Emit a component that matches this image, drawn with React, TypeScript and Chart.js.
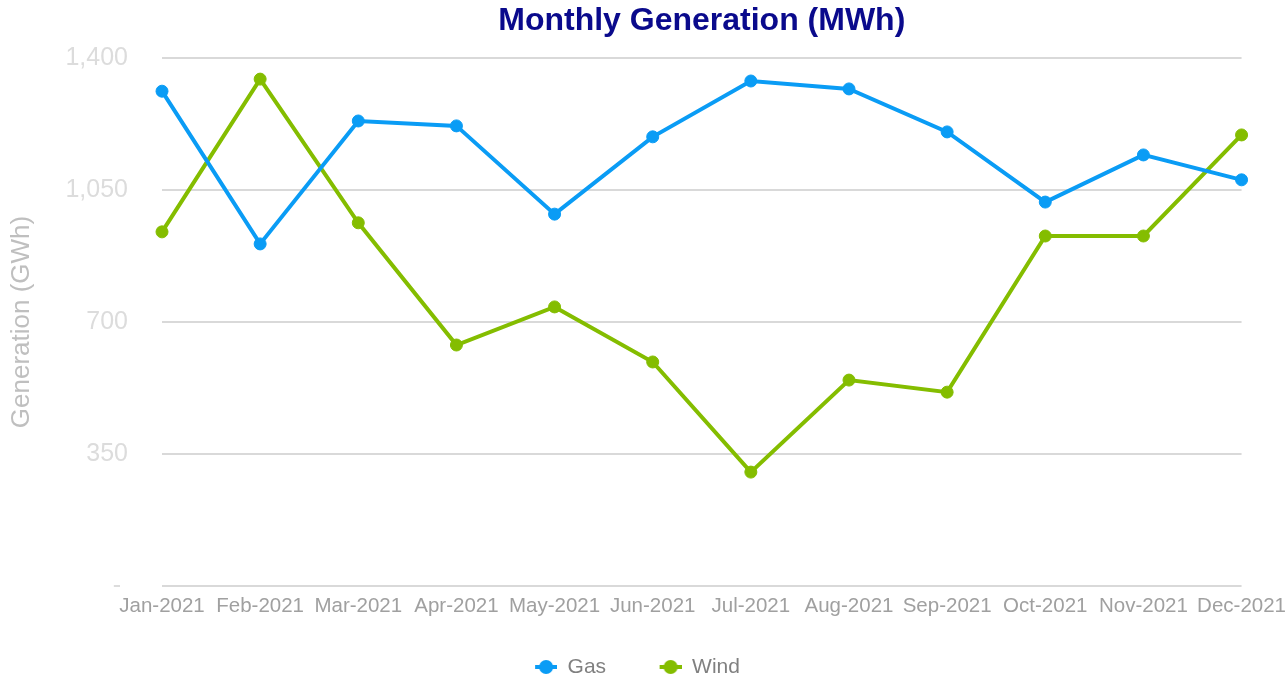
import React, { useEffect, useRef } from "react";
import { Chart, registerables } from "chart.js";

Chart.register(...registerables);

const months = [
  "Jan-2021", "Feb-2021", "Mar-2021", "Apr-2021", "May-2021", "Jun-2021",
  "Jul-2021", "Aug-2021", "Sep-2021", "Oct-2021", "Nov-2021", "Dec-2021",
];
const gasValues = [1312, 907, 1233, 1220, 986, 1191, 1339, 1318, 1204, 1018, 1143, 1077];
const windValues = [939, 1344, 963, 639, 740, 594, 302, 546, 514, 928, 928, 1196];
const yTickValues = [0, 350, 700, 1050, 1400];

const GAS = "#0a9cf5";
const WIND = "#84bd00";
const FONT = "Liberation Sans, Arial, sans-serif";

function makeMarker(color: string): HTMLCanvasElement {
  const c = document.createElement("canvas");
  c.width = 37;
  c.height = 16;
  const ctx = c.getContext("2d")!;
  ctx.strokeStyle = color;
  ctx.lineWidth = 4;
  ctx.beginPath();
  ctx.moveTo(15, 8);
  ctx.lineTo(37, 8);
  ctx.stroke();
  ctx.fillStyle = color;
  ctx.beginPath();
  ctx.arc(26, 8, 7, 0, Math.PI * 2);
  ctx.fill();
  return c;
}

export default function App() {
  const ref = useRef<HTMLCanvasElement | null>(null);

  useEffect(() => {
    if (!ref.current) return;
    const markers = [makeMarker(GAS), makeMarker(WIND)];
    const chart = new Chart(ref.current, {
      type: "line",
      data: {
        labels: months,
        datasets: [
          {
            label: "Gas",
            data: gasValues,
            borderColor: GAS,
            backgroundColor: GAS,
            pointBackgroundColor: GAS,
            pointBorderColor: GAS,
            borderWidth: 4,
            pointRadius: 6,
            pointBorderWidth: 1,
            tension: 0,
          },
          {
            label: "Wind",
            data: windValues,
            borderColor: WIND,
            backgroundColor: WIND,
            pointBackgroundColor: WIND,
            pointBorderColor: WIND,
            borderWidth: 4,
            pointRadius: 6,
            pointBorderWidth: 1,
            tension: 0,
          },
        ],
      },
      options: {
        animation: false,
        responsive: true,
        maintainAspectRatio: false,
        layout: { padding: { left: 0, right: 26, top: 0, bottom: -9.5 } },
        plugins: {
          title: {
            display: true,
            text: "Monthly Generation (MWh)",
            color: "#0a0a8c",
            fullSize: false,
            font: { family: FONT, size: 32, weight: "bold" },
            padding: { top: 2, bottom: 17.6 },
          },
          legend: {
            position: "bottom",
            labels: {
              usePointStyle: true,
              pointStyleWidth: 37,
              padding: 38.5,
              color: "#808080",
              font: { family: FONT, size: 21 },
              generateLabels: (ch: any) =>
                ch.data.datasets.map((ds: any, i: number) => ({
                  text: ds.label,
                  pointStyle: markers[i],
                  fillStyle: ds.borderColor,
                  strokeStyle: ds.borderColor,
                  lineWidth: 0,
                  fontColor: "#808080",
                  hidden: false,
                  datasetIndex: i,
                })),
            },
          },
          tooltip: { enabled: false },
        },
        scales: {
          x: {
            grid: { display: false },
            border: { display: false },
            ticks: {
              color: "#a0a0a0",
              font: { family: FONT, size: 20.5, lineHeight: 1.2 },
              padding: 0,
              maxRotation: 0,
              autoSkip: false,
            },
            afterFit: (scale: any) => {
              scale.height = 32;
            },
          },
          y: {
            min: 0,
            max: 1400,
            afterBuildTicks: (scale: any) => {
              scale.ticks = yTickValues.map((v) => ({ value: v }));
            },
            afterFit: (scale: any) => {
              scale.width = 162;
            },
            grid: { color: "#d9d9d9", lineWidth: 2, drawTicks: false },
            border: { display: false },
            ticks: {
              color: "#dcdcdc",
              padding: 34,
              font: { family: FONT, size: 25 },
              callback: (v: any) => (Number(v) === 0 ? "- " : Number(v).toLocaleString("en-US")),
            },
            title: {
              display: true,
              text: "Generation (GWh)",
              color: "#bfbfbf",
              font: { family: FONT, size: 26 },
              padding: { top: 6.4, bottom: 0 },
            },
          },
        },
      },
    });
    return () => chart.destroy();
  }, []);

  return (
    <div style={{ position: "fixed", left: 0, top: 0, width: 1286, height: 678, background: "#fff" }}>
      <canvas ref={ref} />
    </div>
  );
}
